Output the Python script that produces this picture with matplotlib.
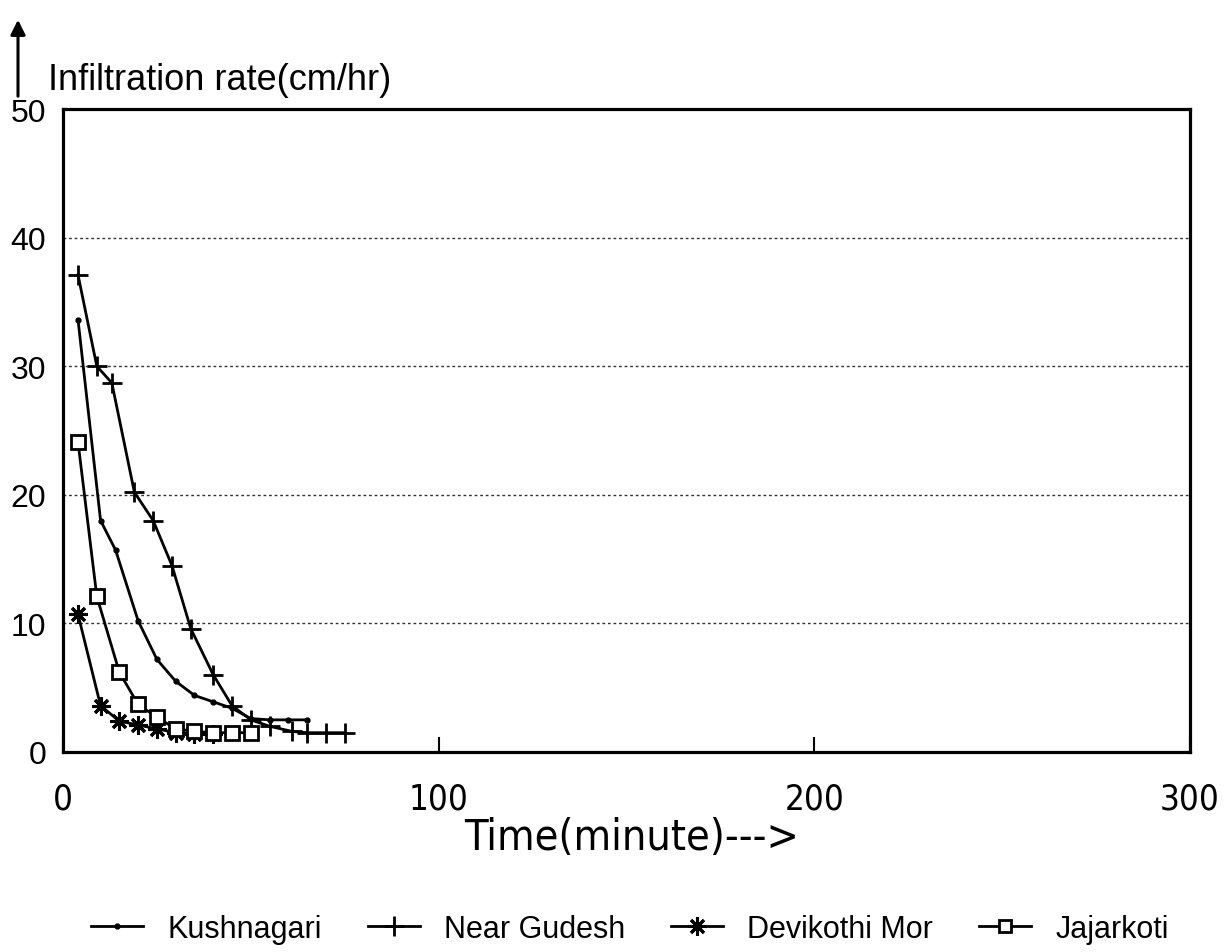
import matplotlib
matplotlib.use("Agg")
import matplotlib.pyplot as plt
from matplotlib.lines import Line2D
from matplotlib import font_manager as fm

# ---- data ----
kush_t = [4, 10, 14, 20, 25, 30, 35, 40, 45, 50, 55, 60, 65]
kush_y = [33.6, 18.0, 15.7, 10.2, 7.2, 5.5, 4.4, 3.9, 3.4, 2.6, 2.5, 2.5, 2.5]

gude_t = [4, 9, 13, 19, 24, 29, 34, 40, 45, 50, 55, 61, 65, 70, 75]
gude_y = [37.1, 30.0, 28.7, 20.2, 18.0, 14.5, 9.6, 6.0, 3.6, 2.5, 2.0, 1.6, 1.5, 1.5, 1.5]

devi_t = [4, 10, 15, 20, 25, 30, 35, 40]
devi_y = [10.7, 3.6, 2.4, 2.1, 1.8, 1.5, 1.4, 1.4]

jaja_t = [4, 9, 15, 20, 25, 30, 35, 40, 45, 50]
jaja_y = [24.1, 12.1, 6.2, 3.7, 2.7, 1.8, 1.6, 1.5, 1.5, 1.5]

series_names = ["Kushnagari", "Near Gudesh", "Devikothi Mor", "Jajarkoti"]
x_ticks = [0, 100, 200, 300]
y_ticks = [0, 10, 20, 30, 40, 50]
y_label = "Infiltration rate(cm/hr)"
x_label = "Time(minute)--->"

REG = ["Liberation Sans", "DejaVu Sans"]
names = {f.name for f in fm.fontManager.ttflist}
if "Liberation Sans Narrow" in names:
    narrow = fm.FontProperties(family="Liberation Sans Narrow")
else:
    narrow = fm.FontProperties(family="DejaVu Sans", stretch="condensed")

W, H = 1229, 953
fig = plt.figure(figsize=(W / 100, H / 100), dpi=100)
left, right, top, bottom = 63, 1190, 110, 753
ax = fig.add_axes([left / W, 1 - bottom / H, (right - left) / W, (bottom - top) / H])

lw = 2.0
ax.plot(kush_t, kush_y, color="black", lw=lw, marker="o", ms=3.5)
ax.plot(gude_t, gude_y, color="black", lw=lw, marker="+", ms=15, mew=2)
ax.plot(devi_t, devi_y, color="black", lw=lw, marker=(8, 2, 0), ms=13, mew=2.2)
ax.plot(jaja_t, jaja_y, color="black", lw=lw, marker="s", ms=10, mew=2,
        markerfacecolor="white")

ax.set_xlim(0, 300)
ax.set_ylim(0, 50)
for s in ax.spines.values():
    s.set_linewidth(2.3)

ax.set_yticks(y_ticks)
ax.set_yticklabels([str(v) for v in y_ticks], family=REG, fontsize=23)
ax.tick_params(axis="y", length=0, pad=12)
ax.set_xticks(x_ticks)
xt = ax.set_xticklabels([str(v) for v in x_ticks])
for t in xt:
    t.set_fontproperties(narrow)
    t.set_fontsize(25)
ax.tick_params(axis="x", direction="in", length=11, width=1.5, pad=21)

for g in [10, 20, 30, 40]:
    ax.axhline(g, color="#333333", lw=1.0, ls=(0, (2, 2)), zorder=0)

# axis titles
fig.text(48 / W, 1 - 90 / H, y_label, family=REG, fontsize=26, va="baseline", ha="left")
xl = fig.text(632 / W, 1 - 850 / H, x_label, va="baseline", ha="center")
xl.set_fontproperties(narrow)
xl.set_fontsize(31)

# upward arrow at top left
fig.patches.append(matplotlib.patches.FancyArrowPatch(
    (18 / W, 1 - 100 / H), (18 / W, 1 - 18 / H), transform=fig.transFigure,
    arrowstyle="-|>", mutation_scale=22, lw=2.2, color="black"))

handles = [
    Line2D([], [], color="black", lw=lw, marker="o", ms=3.5),
    Line2D([], [], color="black", lw=lw, marker="+", ms=15, mew=2),
    Line2D([], [], color="black", lw=lw, marker=(8, 2, 0), ms=13, mew=2.2),
    Line2D([], [], color="black", lw=lw, marker="s", ms=9, mew=2, markerfacecolor="white"),
]
fig.legend(handles, series_names, loc="center", bbox_to_anchor=(630 / W, 1 - 930 / H),
           ncol=4, frameon=False, prop={"family": REG, "size": 22},
           handlelength=1.7, handletextpad=0.8, columnspacing=1.5)

fig.savefig("out.png", dpi=100)
